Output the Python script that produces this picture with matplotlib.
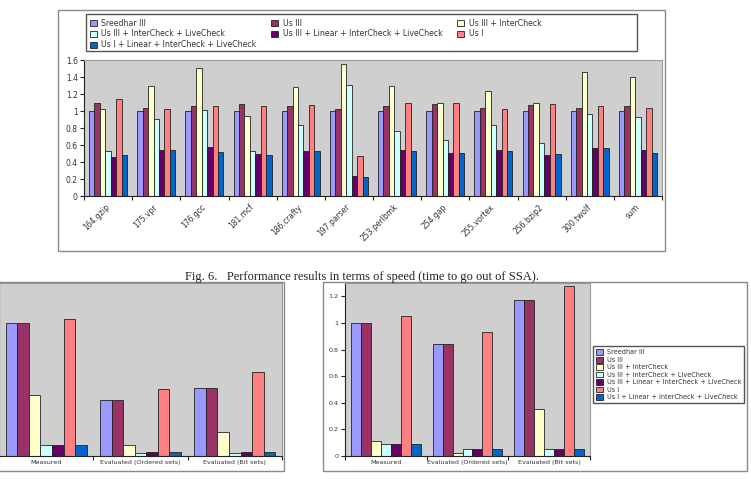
import matplotlib
matplotlib.use('Agg')
import matplotlib.pyplot as plt
import numpy as np
from matplotlib.patches import Rectangle

W, H = 751, 479

series_names = ['Sreedhar III', 'Us III', 'Us III + InterCheck',
                'Us III + InterCheck + LiveCheck',
                'Us III + Linear + InterCheck + LiveCheck',
                'Us I', 'Us I + Linear + InterCheck + LiveCheck']
series_colors = ['#9999ff', '#993366', '#ffffcc', '#ccffff',
                 '#660066', '#ff8080', '#0066cc']

# top chart: speed per benchmark (one row per series)
benchmarks = ['164.gzip', '175.vpr', '176.gcc', '181.mcf', '186.crafty',
              '197.parser', '253.perlbmk', '254.gap', '255.vortex',
              '256.bzip2', '300.twolf', 'sum']
speed_values = [
    [1.00, 1.00, 1.00, 1.00, 1.00, 1.00, 1.00, 1.00, 1.00, 1.00, 1.00, 1.00],
    [1.10, 1.03, 1.06, 1.08, 1.06, 1.02, 1.06, 1.08, 1.03, 1.07, 1.04, 1.055],
    [1.02, 1.30, 1.51, 0.94, 1.28, 1.55, 1.30, 1.10, 1.24, 1.09, 1.455, 1.40],
    [0.53, 0.91, 1.01, 0.53, 0.83, 1.31, 0.77, 0.66, 0.835, 0.62, 0.96, 0.93],
    [0.46, 0.545, 0.58, 0.49, 0.53, 0.23, 0.54, 0.51, 0.54, 0.48, 0.57, 0.54],
    [1.14, 1.02, 1.06, 1.06, 1.07, 0.47, 1.09, 1.09, 1.02, 1.08, 1.06, 1.03],
    [0.48, 0.54, 0.52, 0.48, 0.53, 0.22, 0.53, 0.51, 0.525, 0.49, 0.57, 0.51],
]
speed_yticks = [0, 0.2, 0.4, 0.6, 0.8, 1, 1.2, 1.4, 1.6]
speed_ylabels = ['0', '0.2', '0.4', '0.6', '0.8', '1', '1.2', '1.4', '1.6']

# bottom charts
eval_cats = ['Measured', 'Evaluated (Ordered sets)', 'Evaluated (Bit sets)']
left_values = [
    [1.00, 0.42, 0.51],
    [1.00, 0.42, 0.51],
    [0.46, 0.085, 0.18],
    [0.085, 0.025, 0.025],
    [0.085, 0.028, 0.028],
    [1.03, 0.50, 0.63],
    [0.085, 0.028, 0.028],
]
right_values = [
    [1.00, 0.845, 1.17],
    [1.00, 0.845, 1.17],
    [0.11, 0.025, 0.35],
    [0.09, 0.055, 0.055],
    [0.09, 0.055, 0.055],
    [1.055, 0.93, 1.28],
    [0.09, 0.055, 0.055],
]
right_yticks = [0, 0.2, 0.4, 0.6, 0.8, 1, 1.2]
right_ylabels = ['0', '0.2', '0.4', '0.6', '0.8', '1', '1.2']

caption = 'Fig. 6.   Performance results in terms of speed (time to go out of SSA).'

fig = plt.figure(figsize=(W / 100, H / 100), dpi=100)
fig.patch.set_facecolor('white')


def axes_px(x0, y0, x1, y1):
    return fig.add_axes([x0 / W, 1 - y1 / H, (x1 - x0) / W, (y1 - y0) / H])


def frame_px(x0, y0, x1, y1, color='#8a8a8a', lw=1.0):
    fig.patches.append(Rectangle((x0 / W, 1 - y1 / H), (x1 - x0) / W, (y1 - y0) / H,
                                 transform=fig.transFigure, fill=False,
                                 edgecolor=color, lw=lw))


def grouped_bars(ax, cats, values, group_w, fs):
    n = len(values)
    w = group_w / n
    x = np.arange(len(cats))
    bars = []
    for i, vals in enumerate(values):
        b = ax.bar(x - group_w / 2 + w * (i + 0.5), vals, width=w,
                   color=series_colors[i], edgecolor='#222222', linewidth=0.6,
                   label=series_names[i], zorder=2)
        bars.append(b)
    ax.set_facecolor('#cfcfcf')
    ax.set_xlim(-0.5, len(cats) - 0.5)
    ax.set_xticks(x)
    ax.set_xticks(np.arange(len(cats) + 1) - 0.5, minor=True)
    ax.tick_params(axis='x', which='major', length=0)
    ax.tick_params(axis='x', which='minor', length=3, width=0.8, color='#222222')
    ax.tick_params(axis='y', length=3, width=0.8, color='#222222',
                   labelsize=fs, labelcolor='#333333', pad=1.5)
    for s in ['left', 'bottom']:
        ax.spines[s].set_color('#222222')
        ax.spines[s].set_linewidth(0.8)
    for s in ['top', 'right']:
        ax.spines[s].set_color('#9a9a9a')
        ax.spines[s].set_linewidth(0.8)
    return bars


# top chart
ax1 = axes_px(84, 60, 662, 196)
bars = grouped_bars(ax1, benchmarks, speed_values, 0.79, 5.5)
ax1.set_ylim(0, 1.6)
ax1.set_yticks(speed_yticks)
ax1.set_yticklabels(speed_ylabels)
ax1.set_xticklabels(benchmarks, rotation=45, ha='right', va='center',
                    rotation_mode='anchor', fontsize=5.5, color='#333333')
ax1.tick_params(axis='x', which='major', pad=7)

order = [0, 3, 6, 1, 4, 2, 5]
leg = fig.legend([bars[i] for i in order], [series_names[i] for i in order],
                 loc='upper left', bbox_to_anchor=(88 / W, 1 - 17 / H),
                 ncol=3, frameon=False, fontsize=5.6, handlelength=0.9,
                 handleheight=0.9, handletextpad=0.6, columnspacing=1.9,
                 labelspacing=0.25, borderpad=0.2, borderaxespad=0)
for t in leg.get_texts():
    t.set_color('#333333')
frame_px(86, 14, 637, 51, color='#555555', lw=1.0)

# bottom-left chart (cut by the page edge)
ax2 = axes_px(-1, 283, 282, 456)
grouped_bars(ax2, eval_cats, left_values, 0.86, 4.6)
ax2.set_ylim(0, 1.3)
ax2.set_yticks([])
ax2.set_xticklabels(eval_cats, fontsize=4.6, color='#333333')
ax2.tick_params(axis='x', which='major', pad=3)

# bottom-right chart
ax3 = axes_px(345, 283, 590, 456)
bars3 = grouped_bars(ax3, eval_cats, right_values, 0.855, 4.6)
ax3.set_ylim(0, 1.3)
ax3.set_yticks(right_yticks)
ax3.set_yticklabels(right_ylabels)
ax3.set_xticklabels(eval_cats, fontsize=4.6, color='#333333')
ax3.tick_params(axis='x', which='major', pad=3)
leg3 = fig.legend(bars3, series_names, loc='upper left',
                  bbox_to_anchor=(593 / W, 1 - 346 / H), ncol=1,
                  fontsize=4.7, handlelength=1.0, handleheight=1.0,
                  handletextpad=0.6, labelspacing=0.2, borderpad=0.5,
                  borderaxespad=0, fancybox=False, edgecolor='#555555',
                  framealpha=1)
leg3.get_frame().set_linewidth(1.0)
for t in leg3.get_texts():
    t.set_color('#333333')

# page frames and caption
frame_px(58, 10, 665, 251)
frame_px(-3, 282, 284, 471)
frame_px(323, 282, 747, 471)
fig.text(362 / W, 1 - 277 / H, caption, ha='center', va='center',
         family='Liberation Serif', fontsize=9, color='#222222')

fig.savefig('out.png', dpi=100)
